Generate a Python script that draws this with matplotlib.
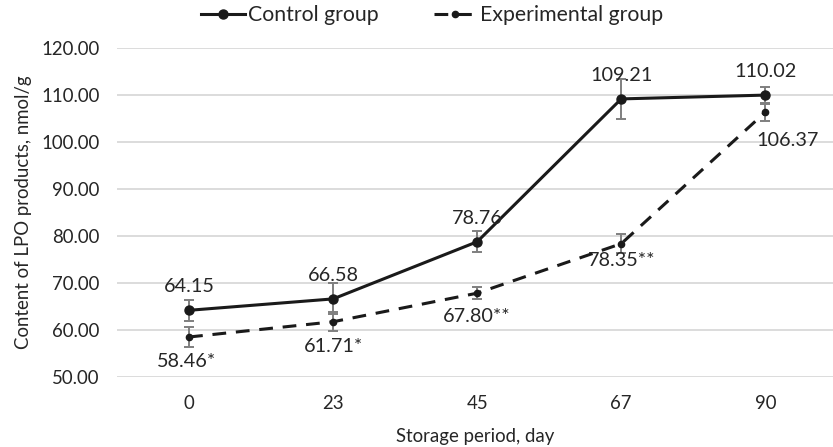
import matplotlib
matplotlib.use("Agg")
import matplotlib.pyplot as plt

plt.rcParams['font.family'] = ['Lato', 'DejaVu Sans']

days = ["0", "23", "45", "67", "90"]
control = [64.15, 66.58, 78.76, 109.21, 110.02]
control_err = [2.2, 3.3, 2.2, 4.3, 1.8]
experimental = [58.46, 61.71, 67.80, 78.35, 106.37]
experimental_err = [2.2, 2.0, 1.3, 2.0, 1.9]
exp_marks = ["*", "*", "**", "**", ""]

line_col = "#1a1a1a"
err_col = "#7f7f7f"
txt_col = "#262626"
fs = 13.4

fig = plt.figure(figsize=(8.33, 4.47), dpi=100)
ax = fig.add_axes([0.1405, 0.1573, 0.8595, 0.7347])
x = list(range(len(days)))

ax.errorbar(x, control, yerr=control_err, fmt='none', ecolor=err_col,
            elinewidth=1.4, capsize=3.5, capthick=1.4, zorder=2)
ax.errorbar(x, experimental, yerr=experimental_err, fmt='none', ecolor=err_col,
            elinewidth=1.4, capsize=3.5, capthick=1.4, zorder=2)

ax.plot(x, control, color=line_col, lw=2.2, marker='o', ms=6.5,
        label="Control group", zorder=3)
ax.plot(x, experimental, color=line_col, lw=2.2, marker='o', ms=4.5,
        dashes=(4.5, 3.2), label="Experimental group", zorder=3)

# data labels: control above, experimental below
for i, v in enumerate(control):
    ax.annotate("%.2f" % v, (x[i], v), xytext=(0, 17), textcoords='offset points',
                ha='center', va='center', fontsize=14.3, color=txt_col)
exp_offsets = [(-2, -18), (0, -18), (0, -17), (0, -12), (16, -20)]
for i, v in enumerate(experimental):
    ax.annotate("%.2f%s" % (v, exp_marks[i]), (x[i], v), xytext=exp_offsets[i],
                textcoords='offset points', ha='center', va='center',
                fontsize=14.3, color=txt_col)

ax.set_xlim(-0.5, 4.47)
ax.set_ylim(50, 120)
ax.set_yticks(range(50, 121, 10))
ax.set_yticklabels(["%.2f" % t for t in range(50, 121, 10)])
ax.set_xticks(x)
ax.set_xticklabels(days)
ax.grid(axis='y', color="#d9d9d9", lw=1.3)
ax.set_axisbelow(True)
for s in ax.spines.values():
    s.set_visible(False)
ax.tick_params(length=0, labelsize=fs, labelcolor=txt_col)
ax.tick_params(axis='y', pad=12.5)
ax.tick_params(axis='x', pad=13)

ax.set_xlabel("Storage period, day", fontsize=fs, color=txt_col, labelpad=12)
ax.set_ylabel("Content of LPO products, nmol/g", fontsize=fs, color=txt_col, labelpad=7)

fig.legend(loc='center', bbox_to_anchor=(0.519, 0.966), ncol=2, frameon=False,
           fontsize=15.3, handlelength=2.05, handletextpad=0.15, columnspacing=2.6,
           labelcolor=txt_col)

fig.savefig("out.png", dpi=100)
